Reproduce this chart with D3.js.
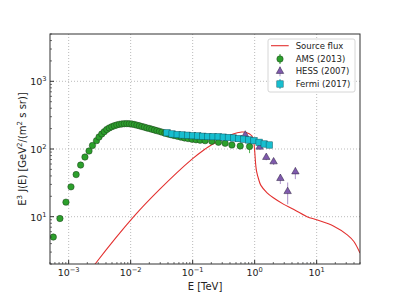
<!DOCTYPE html>
<html>
<head>
  <meta charset="utf-8">
  <title>Electron spectrum</title>
  <style>
    body { margin: 0; background: #fff; }
    svg { font-family: "DejaVu Sans", sans-serif; }
  </style>
</head>
<body>
  <div id="plot"></div>

  <script src="https://cdn.jsdelivr.net/npm/d3@7"></script>
  <script>
    // ---- data (E in TeV, E^3 J(E) in GeV^2/(m^2 s sr)) ----
    const sourceE = [2.3e-3, 2.73e-3, 1.13e-2, 2.96e-2, 9.77e-2, 0.159, 0.191, 0.356, 0.45, 0.62, 0.71, 0.9, 0.96, 1.0, 1.037, 1.072, 1.156, 1.26, 1.585, 2.0, 2.95, 3.98, 7.0, 10, 18.9, 31.2, 39.8, 50];
    const sourceJ = [1.65, 2.05, 10.1, 25.5, 70.8, 100, 112, 149, 167, 178, 177, 157, 133, 94, 60, 47, 36, 29, 22.5, 19, 15.2, 13.2, 10, 9.0, 7.25, 5.4, 4.3, 2.9];

    const amsE = [5.65e-4, 7.23e-4, 9.04e-4, 1.09e-3, 1.32e-3, 1.56e-3, 1.83e-3, 2.13e-3, 2.42e-3, 2.81e-3,
                  3.09e-3, 3.42e-3, 3.75e-3, 4.12e-3, 4.52e-3, 4.96e-3, 5.45e-3, 5.98e-3, 6.57e-3, 7.2e-3,
                  7.91e-3, 8.68e-3, 9.53e-3, 1.046e-2, 1.148e-2, 1.26e-2, 1.383e-2, 1.518e-2, 1.666e-2, 1.828e-2,
                  2.01e-2, 2.2e-2, 2.42e-2, 2.65e-2, 2.91e-2, 3.2e-2, 3.57e-2, 4.0e-2, 4.47e-2, 5.0e-2,
                  5.7e-2, 6.49e-2, 7.4e-2, 8.43e-2, 9.78e-2, 0.1135, 0.1318, 0.1588, 0.2037, 0.2606,
                  0.3343, 0.4293, 0.585, 0.827];
    const amsJ = [5.0, 9.4, 16.4, 27.6, 41.9, 57.9, 76.0, 93.4, 112.7, 132.8,
                  150.6, 166.8, 180.4, 194.4, 204.8, 213.3, 220.6, 226.8, 231.4, 234.4,
                  236.2, 237, 236, 233.9, 229.7, 225.2, 220, 214.8, 210.4, 204.8,
                  200.6, 195.8, 191, 186.6, 182.2, 177.5, 171.4, 166.8, 162.3, 158,
                  153.8, 149.6, 145.6, 142.6, 139.2, 136.8, 135, 132.8, 130.1, 125.6,
                  121.4, 114.6, 110.7, 108.9];
    const amsErr = [0, 0, 0, 0, 0, 0, 0, 0, 0, 0,
                    0, 0, 0, 0, 0, 0, 0, 0, 0, 0,
                    0, 0, 0, 0, 0, 0, 0, 0, 0, 0,
                    0, 0, 0, 0, 0, 0, 0, 0, 0, 0,
                    0, 0, 0, 0, 0, 0, 0, 0, 0, 0,
                    3, 5, 9, 22];

    const hessE  = [0.705, 1.2, 1.54, 2.02, 2.6, 3.4, 4.54];
    const hessJ  = [161, 107, 75.4, 64.9, 36.8, 23.6, 46.1];
    const hessLo = [150, 98, 68, 58, 30.3, 15.3, 35.9];
    const hessHi = [172, 116, 83.4, 72, 42.7, 32.1, 53.5];

    const fermiE = [0.0385, 0.0466, 0.0563, 0.0681, 0.0824, 0.0996, 0.1205, 0.1457, 0.1762, 0.2131,
                    0.2577, 0.3116, 0.3768, 0.4557, 0.551, 0.6665, 0.806, 0.975, 1.179, 1.425, 1.723];
    const fermiJ = [173.8, 166.8, 163.4, 161.2, 159.6, 157.4, 155.9, 154.2, 152.7, 152.1,
                    151.6, 149.6, 148, 145.6, 142.6, 139.6, 136, 132.8, 125.6, 118.6, 114.6];

    const xTickExp = [-3, -2, -1, 0, 1];
    const yTickExp = [1, 2, 3];
    const legendLabels = ['Source flux', 'AMS (2013)', 'HESS (2007)', 'Fermi (2017)'];

    const red = '#e3302f', green = '#2ca02c', purple = '#7f5aad', cyan = '#17becf';

    function translate(x, y) { return 'translate(' + x + ',' + y + ')'; }

    // ---- layout ----
    let svgWidth = 399, svgHeight = 298;
    let margin = {top: 34, right: 39, bottom: 34, left: 50};
    let width = svgWidth - margin.left - margin.right;   // 310
    let height = svgHeight - margin.top - margin.bottom; // 230

    let root = d3.select('#plot').append('svg')
      .attr('width', svgWidth).attr('height', svgHeight);
    let svg = root.append('g').attr('transform', translate(margin.left, margin.top));

    let x = d3.scaleLog().domain([5e-4, 50]).range([0, width]);
    let y = d3.scaleLog().domain([2, 5000]).range([height, 0]);

    // clip
    svg.append('clipPath').attr('id', 'clip')
      .append('rect').attr('width', width).attr('height', height);

    // grid (dotted, major only)
    svg.selectAll('.gx').data(xTickExp).enter().append('line')
      .attr('x1', d => x(Math.pow(10, d))).attr('x2', d => x(Math.pow(10, d)))
      .attr('y1', 0).attr('y2', height)
      .attr('stroke', '#aaa').attr('stroke-width', 0.8).attr('stroke-dasharray', '1,2');
    svg.selectAll('.gy').data(yTickExp).enter().append('line')
      .attr('y1', d => y(Math.pow(10, d))).attr('y2', d => y(Math.pow(10, d)))
      .attr('x1', 0).attr('x2', width)
      .attr('stroke', '#aaa').attr('stroke-width', 0.8).attr('stroke-dasharray', '1,2');

    // minor tick positions
    let xMinor = [], yMinor = [];
    for (let e = -4; e <= 1; e++) for (let m = 2; m <= 9; m++) {
      let v = m * Math.pow(10, e);
      if (v >= 5e-4 && v <= 50) xMinor.push(v);
    }
    for (let e = 0; e <= 3; e++) for (let m = 2; m <= 9; m++) {
      let v = m * Math.pow(10, e);
      if (v >= 2 && v <= 5000) yMinor.push(v);
    }

    let plot = svg.append('g').attr('clip-path', 'url(#clip)');

    // source flux line
    let line = d3.line()
      .x((d, i) => x(sourceE[i]))
      .y((d, i) => y(sourceJ[i]))
      .curve(d3.curveCatmullRom.alpha(0.5));
    plot.append('path').datum(sourceE)
      .attr('d', line)
      .attr('fill', 'none').attr('stroke', red).attr('stroke-width', 1.1);

    // AMS
    let amsIdx = d3.range(amsE.length).filter(i => amsErr[i] > 0);
    plot.selectAll('.amsErr').data(amsIdx).enter().append('line')
      .attr('x1', i => x(amsE[i])).attr('x2', i => x(amsE[i]))
      .attr('y1', i => y(amsJ[i] - amsErr[i]))
      .attr('y2', i => y(amsJ[i] + amsErr[i]))
      .attr('stroke', green).attr('stroke-opacity', 0.8).attr('stroke-width', 1);
    plot.selectAll('.ams').data(amsE).enter().append('circle')
      .attr('cx', d => x(d))
      .attr('cy', (d, i) => y(amsJ[i]))
      .attr('r', 3.2)
      .attr('fill', green).attr('stroke', '#1d3d1d').attr('stroke-width', 0.5);

    // HESS
    plot.selectAll('.hessErr').data(hessE).enter().append('line')
      .attr('x1', d => x(d)).attr('x2', d => x(d))
      .attr('y1', (d, i) => y(hessLo[i])).attr('y2', (d, i) => y(hessHi[i]))
      .attr('stroke', purple).attr('stroke-opacity', 0.55).attr('stroke-width', 1.2);
    let tri = d3.symbol().type(d3.symbolTriangle).size(24);
    plot.selectAll('.hess').data(hessE).enter().append('path')
      .attr('d', tri)
      .attr('transform', (d, i) => translate(x(d), y(hessJ[i])))
      .attr('fill', purple).attr('stroke', '#2b1f3d').attr('stroke-width', 0.5);

    // Fermi
    let sq = 6.4;
    plot.selectAll('.fermi').data(fermiE).enter().append('rect')
      .attr('x', d => x(d) - sq / 2)
      .attr('y', (d, i) => y(fermiJ[i]) - sq / 2)
      .attr('width', sq).attr('height', sq)
      .attr('fill', cyan).attr('stroke', '#0e5a63').attr('stroke-width', 0.5);

    // frame
    svg.append('rect').attr('width', width).attr('height', height)
      .attr('fill', 'none').attr('stroke', '#333').attr('stroke-width', 1);

    // ticks (inward)
    let tickCol = '#333';
    svg.selectAll('.xt').data(xTickExp).enter().append('line')
      .attr('x1', d => x(Math.pow(10, d))).attr('x2', d => x(Math.pow(10, d)))
      .attr('y1', height).attr('y2', height - 4).attr('stroke', tickCol);
    svg.selectAll('.xm').data(xMinor).enter().append('line')
      .attr('x1', d => x(d)).attr('x2', d => x(d))
      .attr('y1', height).attr('y2', height - 2).attr('stroke', tickCol).attr('stroke-width', 0.7);
    svg.selectAll('.yt').data(yTickExp).enter().append('line')
      .attr('y1', d => y(Math.pow(10, d))).attr('y2', d => y(Math.pow(10, d)))
      .attr('x1', 0).attr('x2', 4).attr('stroke', tickCol);
    svg.selectAll('.ym').data(yMinor).enter().append('line')
      .attr('y1', d => y(d)).attr('y2', d => y(d))
      .attr('x1', 0).attr('x2', 2).attr('stroke', tickCol).attr('stroke-width', 0.7);

    // tick labels
    let xl = svg.selectAll('.xl').data(xTickExp).enter().append('text')
      .attr('x', d => x(Math.pow(10, d)))
      .attr('y', height + 12)
      .attr('text-anchor', 'middle')
      .attr('font-size', 9.5).attr('fill', '#222');
    xl.append('tspan').text('10');
    xl.append('tspan').attr('dy', -4).attr('font-size', 6.7)
      .text(d => (d < 0 ? '\u2212' + (-d) : d));

    let yl = svg.selectAll('.yl').data(yTickExp).enter().append('text')
      .attr('x', -3.5)
      .attr('y', d => y(Math.pow(10, d)) + 4)
      .attr('text-anchor', 'end')
      .attr('font-size', 9.5).attr('fill', '#222');
    yl.append('tspan').text('10');
    yl.append('tspan').attr('dy', -4).attr('font-size', 6.7).text(d => d);

    // axis labels
    svg.append('text')
      .attr('x', width / 2).attr('y', height + 26)
      .attr('text-anchor', 'middle').attr('font-size', 10).attr('fill', '#222')
      .text('E [TeV]');

    let ylab = root.append('text')
      .attr('transform', translate(26, margin.top + height / 2) + ' rotate(-90)')
      .attr('text-anchor', 'middle').attr('font-size', 10).attr('fill', '#222');
    ylab.append('tspan').text('E');
    ylab.append('tspan').attr('dy', -4).attr('font-size', 7).text('3');
    ylab.append('tspan').attr('dy', 4).text(' J(E) [GeV');
    ylab.append('tspan').attr('dy', -4).attr('font-size', 7).text('2');
    ylab.append('tspan').attr('dy', 4).text('/(m');
    ylab.append('tspan').attr('dy', -4).attr('font-size', 7).text('2');
    ylab.append('tspan').attr('dy', 4).text(' s sr)]');

    // legend
    let lg = root.append('g').attr('transform', translate(268, 39));
    lg.append('rect').attr('width', 87).attr('height', 53).attr('rx', 2)
      .attr('fill', '#fff').attr('fill-opacity', 0.85)
      .attr('stroke', '#ccc').attr('stroke-width', 0.8);
    let rowY = [6.7, 20, 32.3, 45];
    lg.selectAll('.lt').data(legendLabels).enter().append('text')
      .attr('x', 27.7).attr('y', (d, i) => rowY[i] + 3)
      .attr('font-size', 8.5).attr('fill', '#222')
      .text(d => d);
    lg.append('line').attr('x1', 3).attr('x2', 20.7).attr('y1', rowY[0]).attr('y2', rowY[0])
      .attr('stroke', red).attr('stroke-width', 1.1);
    lg.append('line').attr('x1', 12).attr('x2', 12).attr('y1', rowY[1] - 5).attr('y2', rowY[1] + 5)
      .attr('stroke', green).attr('stroke-width', 1);
    lg.append('circle').attr('cx', 12).attr('cy', rowY[1]).attr('r', 3.2)
      .attr('fill', green).attr('stroke', '#1d3d1d').attr('stroke-width', 0.5);
    lg.append('line').attr('x1', 12).attr('x2', 12).attr('y1', rowY[2] - 5).attr('y2', rowY[2] + 5)
      .attr('stroke', purple).attr('stroke-opacity', 0.55).attr('stroke-width', 1.2);
    lg.append('path').attr('d', tri).attr('transform', translate(12, rowY[2]))
      .attr('fill', purple).attr('stroke', '#2b1f3d').attr('stroke-width', 0.5);
    lg.append('line').attr('x1', 12).attr('x2', 12).attr('y1', rowY[3] - 5).attr('y2', rowY[3] + 5)
      .attr('stroke', cyan).attr('stroke-width', 1);
    lg.append('rect').attr('x', 12 - sq / 2).attr('y', rowY[3] - sq / 2)
      .attr('width', sq).attr('height', sq)
      .attr('fill', cyan).attr('stroke', '#0e5a63').attr('stroke-width', 0.5);
  </script>
</body>
</html>
